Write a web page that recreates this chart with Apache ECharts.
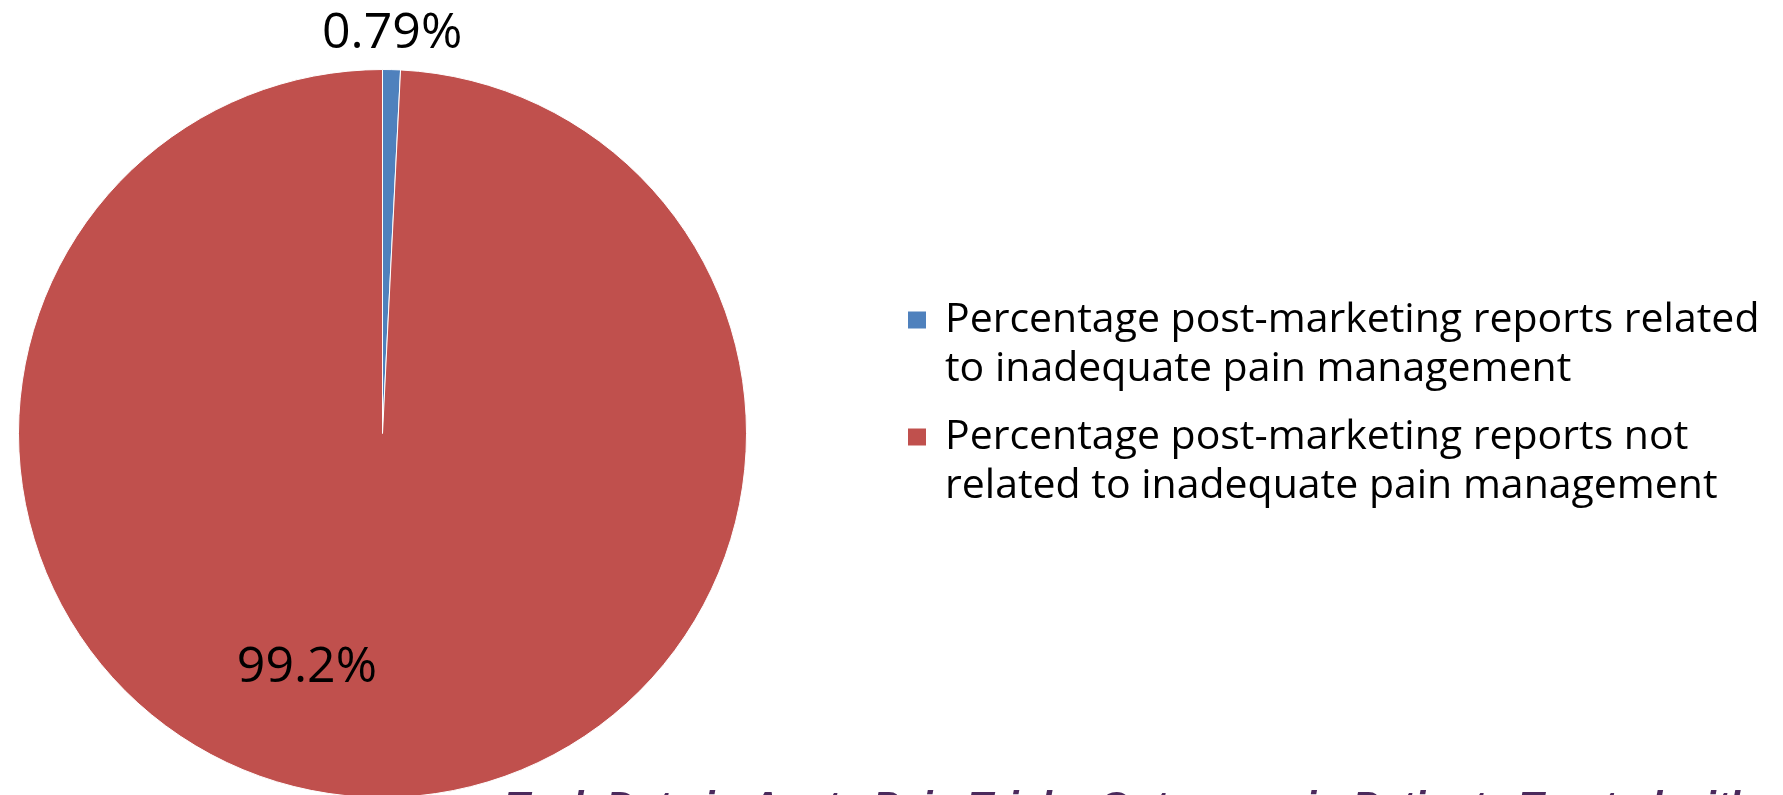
<!DOCTYPE html>
<html>
<head>
<meta charset="utf-8">
<script src="https://cdn.jsdelivr.net/npm/echarts@6/dist/echarts.min.js"></script>
<style>
html,body{margin:0;padding:0;background:#fff;}
#chart{width:1783px;height:795px;}
</style>
</head>
<body>
<div id="chart"></div>
<script>
const categories = [
  'Percentage post-marketing reports related\nto inadequate pain management',
  'Percentage post-marketing reports not\nrelated to inadequate pain management'
];
const values = [0.79, 99.2];
const colors = ['#4F81BD', '#C0504D'];
const sourceText = 'Task Data in Acute Pain Trials: Outcomes in Patients Treated with';

const labelShift = [[5, -215], [-71, 49]];

const chart = echarts.init(document.getElementById('chart'), null, {renderer: 'canvas'});
const fontFamily = '"Open Sans", "Noto Sans", sans-serif';

chart.setOption({
  animation: false,
  backgroundColor: '#ffffff',
  title: {
    text: sourceText,
    left: 505,
    top: 789,
    padding: 0,
    textStyle: {
      fontFamily: '"Liberation Sans", Arial, sans-serif',
      fontStyle: 'italic',
      fontWeight: 'bold',
      fontSize: 40,
      color: '#4B2A5C'
    }
  },
  legend: categories.map((name, i) => ({
    data: [name],
    orient: 'vertical',
    left: 906,
    top: i === 0 ? 246.5 : 363.5,
    padding: 0,
    icon: 'rect',
    itemWidth: 20,
    itemHeight: 19,
    itemGap: 0,
    selectedMode: false,
    formatter: n => '{a| }\n' + n.split('\n').map(t => '{s|}{a|' + t + '}').join('\n'),
    textStyle: {
      fontFamily: fontFamily,
      fontSize: 41,
      lineHeight: 49,
      color: '#000',
      rich: {
        a: {fontFamily: fontFamily, fontSize: 41, lineHeight: 49, color: '#000'},
        s: {width: 13, lineHeight: 49}
      }
    }
  })),
  series: [{
    type: 'pie',
    center: [382.5, 433.5],
    radius: 364,
    startAngle: 90,
    clockwise: true,
    avoidLabelOverlap: false,
    itemStyle: {borderColor: '#ffffff', borderWidth: 1},
    label: {
      show: true,
      position: 'inside',
      formatter: p => p.value + '%',
      fontFamily: fontFamily,
      fontSize: 50,
      color: '#000'
    },
    labelLine: {show: false},
    labelLayout: p => ({dx: labelShift[p.dataIndex][0], dy: labelShift[p.dataIndex][1]}),
    emphasis: {disabled: true},
    data: categories.map((name, i) => ({
      name: name,
      value: values[i],
      itemStyle: {color: colors[i]}
    }))
  }]
});
</script>
</body>
</html>
